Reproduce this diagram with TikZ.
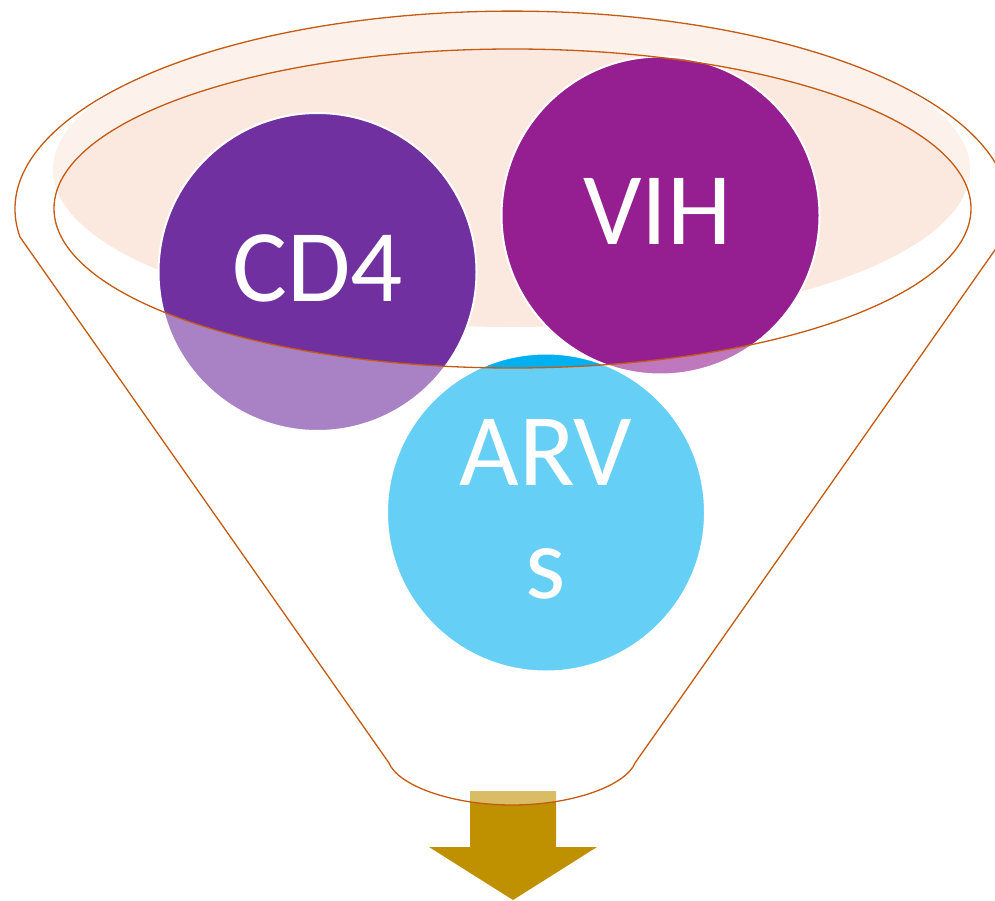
\documentclass[tikz,border=0pt]{standalone}
\usepackage{fontspec}
\setmainfont{Carlito}
\definecolor{peach}{HTML}{FBE8DE}
\definecolor{gold}{HTML}{BF9000}
\definecolor{cdc}{HTML}{7030A0}
\definecolor{vihc}{HTML}{951F91}
\definecolor{arvc}{HTML}{00B0F0}
\definecolor{rimc}{HTML}{C55A11}
\tikzset{
  ball/.style={circle, inner sep=0pt, minimum size=318pt, draw=white, line width=2pt},
  rim/.style={draw=rimc, line width=1.3pt},
  lbl/.style={text=white, font=\fontsize{103}{113}\selectfont, anchor=base, inner sep=0pt},
  funnelpath/.style={}
}
\begin{document}
\begin{tikzpicture}[x=1pt,y=-1pt]
\useasboundingbox (0,0) rectangle (995,901);
% peach top surface
\fill[peach] (511.5,169.5) ellipse [x radius=458.5pt, y radius=157.5pt];
% arrow
\fill[gold] (470,791) -- (556,791) -- (556,847) -- (597,847) -- (513,900) -- (429,847) -- (470,847) -- cycle;
% circles
\node[ball, fill=cdc] (cd4) at (317.5,272) {};
\node[ball, fill=vihc] (vih) at (660.5,215.5) {};
\node[ball, fill=arvc] (arv) at (546,512.5) {};
% translucent funnel body
\fill[white, fill opacity=0.4, even odd rule]
  (20,237) arc[start angle=188.1, end angle=-8.1, x radius=497pt, y radius=198pt]
  -- (635,763) .. controls (626,785) and (574,805) .. (512,805)
  .. controls (450,805) and (398,785) .. (389,763) -- cycle
  (512.5,208.5) ellipse [x radius=458.5pt, y radius=159.5pt];
% outlines
\draw[rim]
  (20,237) arc[start angle=188.1, end angle=-8.1, x radius=497pt, y radius=198pt]
  -- (635,763) .. controls (626,785) and (574,805) .. (512,805)
  .. controls (450,805) and (398,785) .. (389,763) -- cycle;
\draw[rim] (512.5,208.5) ellipse [x radius=458.5pt, y radius=159.5pt];
% labels
\node[lbl] (t1) at (317.5,301) {CD4};
\node[lbl] (t2) at (657.5,245) {VIH};
\node[lbl] (t3) at (546,485) {ARV};
\node[lbl] (t4) at (546,598) {s};
\end{tikzpicture}
\end{document}
